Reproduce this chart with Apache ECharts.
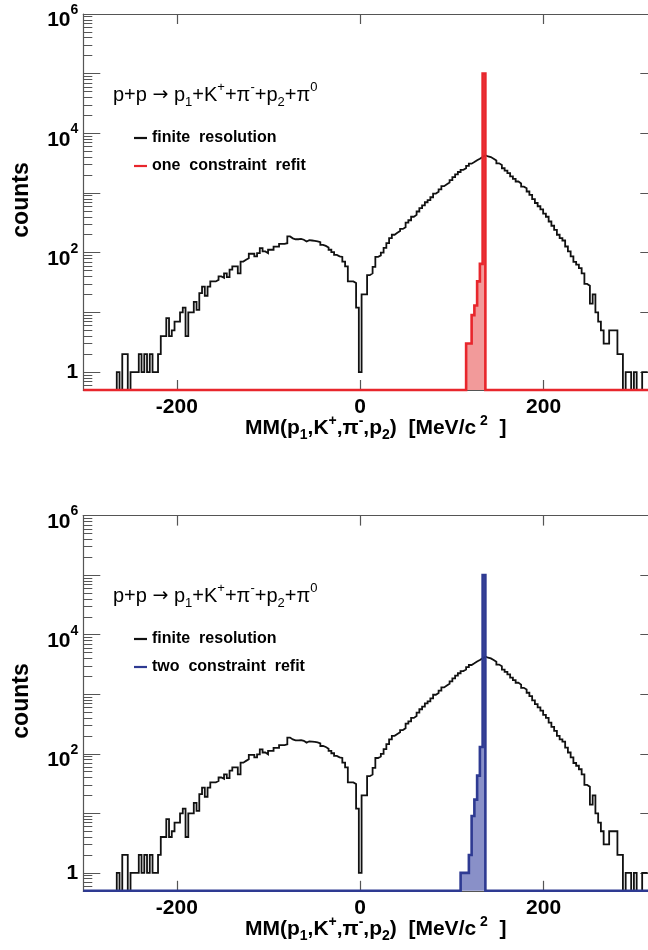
<!DOCTYPE html>
<html><head><meta charset="utf-8">
<script src="https://cdn.jsdelivr.net/npm/echarts@6/dist/echarts.min.js"></script>
<style>html,body{margin:0;padding:0;background:#fff}#c{width:648px;height:950px}</style>
</head><body><div id="c"></div>
<script>
// ---------------- data ----------------
const binWidth = 3;              // MeV per bin
const firstBinCenter = -300;     // centre of first bin
// finite resolution histogram (same in both panels), counts per bin
const finiteCounts = [
  0,0,0,0,0,0,0,0,0,0,0,0,
  1,0,2,2,0,1,1,1,2,1,2,1,2,1,1,2,
  4,4,8,4,5,7,7,10,12,4,10,10,15,11,21,27,19,27,33,33,35,40,
  38,45,39,52,59,59,45,71,76,81,96,96,87,98,119,105,98,112,112,126,
  126,140,140,144,187,174,168,168,170,165,154,162,160,158,155,150,135,130,122,112,102,92,87,85,71,59,33,33,31,12,
  1,20,20,42,45,58,85,90,100,120,
  145,175,200,215,230,250,268,320,350,400,430,490,560,620,700,760,850,980,1050,1150,1300,1400,1500,1650,1850,2050,2250,2450,2600,2850,3100,3300,3550,3750,4000,4300,
  4100,4000,3750,3500,3150,2950,2600,2370,2150,1900,1720,1560,1450,1280,1200,1060,930,790,680,600,530,450,400,333,
  283,242,200,175,160,127,105,87,70,63,55,45,30,28,14,20,10,7,5,3,3,5,5,5,2,2,0,1,1,0,1,0,0,1,1
];
// one constraint refit (top panel)
const oneCFitCenters = [117, 120, 123, 126, 129, 132, 135];
const oneCFitCounts  = [3, 3, 9, 13, 33, 65, 100000];
// two constraint refit (bottom panel)
const twoCFitCenters = [111, 114, 117, 120, 123, 126, 129, 132, 135];
const twoCFitCounts  = [1, 1, 1, 2, 9, 17, 43, 130, 100000];
// axes
const xTicks = [-200, 0, 200];
const yLabelValues = [1, 100, 10000, 1000000];
const yMajorTicks = [1, 10, 100, 1000, 10000, 100000, 1000000];
const yMinorMultipliers = [2, 3, 4, 5, 6, 7, 8, 9];

// ---------------- helpers ----------------
const X_MIN = -302, X_MAX = 324, Y_MIN = 0.5, Y_MAX = 1e6;
const FONT = '"Liberation Sans", Arial, Helvetica, sans-serif';
const yMinorTicks = [];
[0.1].concat(yMajorTicks).forEach(d => yMinorMultipliers.forEach(m => {
  const v = +(m * d).toPrecision(6);
  if (v >= Y_MIN && v <= Y_MAX && yMajorTicks.indexOf(v) < 0) yMinorTicks.push(v);
}));

function stepPoints(centers, counts, extend) {
  const pts = [];
  let prevR = null;
  if (extend) pts.push([X_MIN, Y_MIN]);
  for (let i = 0; i < counts.length; i++) {
    const l = Math.max(centers[i] - binWidth / 2, X_MIN);
    const r = Math.min(centers[i] + binWidth / 2, X_MAX);
    const c = counts[i] > 0 ? counts[i] : Y_MIN;
    if (prevR === null) { if (extend) pts.push([l, Y_MIN]); }
    else if (Math.abs(prevR - l) > 1e-9) { pts.push([prevR, Y_MIN]); pts.push([l, Y_MIN]); }
    pts.push([l, c]); pts.push([r, c]);
    prevR = r;
  }
  if (extend) { pts.push([prevR, Y_MIN]); pts.push([X_MAX, Y_MIN]); }
  return pts;
}
const finiteCenters = finiteCounts.map((_, i) => firstBinCenter + i * binWidth);

const axisColor = '#555';
function xAxes(gi) {
  const base = {type: 'value', gridIndex: gi, min: X_MIN, max: X_MAX, splitLine: {show: false},
    axisLine: {show: true, onZero: false, lineStyle: {color: axisColor, width: 1.2}}};
  return [
    Object.assign({}, base, {position: 'bottom',
      axisTick: {show: true, inside: true, length: 10, customValues: xTicks, lineStyle: {color: axisColor, width: 1.2}},
      axisLabel: {show: true, customValues: xTicks, margin: 7, color: '#000', fontFamily: FONT, fontWeight: 'bold', fontSize: 21}}),
    Object.assign({}, base, {position: 'top',
      axisTick: {show: true, inside: true, length: 10, customValues: xTicks, lineStyle: {color: axisColor, width: 1.2}},
      axisLabel: {show: false}})
  ];
}
const yRich = {
  b: {fontFamily: FONT, fontWeight: 'bold', fontSize: 21, color: '#000', lineHeight: 34, verticalAlign: 'bottom'},
  s: {fontFamily: FONT, fontWeight: 'bold', fontSize: 14, color: '#000', verticalAlign: 'top', padding: [6, 0, 0, 0]},
  one: {fontFamily: FONT, fontWeight: 'bold', fontSize: 21, color: '#000', lineHeight: 24}
};
function yAxes(gi) {
  const base = {type: 'log', logBase: 10, gridIndex: gi, min: Y_MIN, max: Y_MAX, splitLine: {show: false},
    minorTick: {show: false}, axisLabel: {show: false}, axisLine: {show: false, onZero: false}, axisTick: {show: false}};
  const tl = {color: axisColor, width: 1};
  return [
    Object.assign({}, base, {position: 'left',
      axisLine: {show: true, onZero: false, lineStyle: {color: axisColor, width: 1.2}},
      axisTick: {show: true, inside: true, length: 17, customValues: yMajorTicks, lineStyle: tl},
      axisLabel: {show: true, customValues: yLabelValues, margin: 5, rich: yRich,
        formatter: v => (Math.abs(v - 1) < 1e-9 ? '{one|1}' : '{b|10}{s|' + Math.round(Math.log10(v)) + '}')}}),
    Object.assign({}, base, {position: 'left',
      axisTick: {show: true, inside: true, length: 9, customValues: yMinorTicks, lineStyle: tl}}),
    Object.assign({}, base, {position: 'right',
      axisLine: {show: true, onZero: false, lineStyle: {color: axisColor, width: 1.2}},
      axisTick: {show: true, inside: true, length: 17, customValues: yMajorTicks, lineStyle: tl}}),
    Object.assign({}, base, {position: 'right',
      axisTick: {show: true, inside: true, length: 9, customValues: yMinorTicks, lineStyle: tl}})
  ];
}
// filled area under a refit histogram: one polygon built through the axes' scales
function fillSeries(gi, centers, counts, color) {
  return {type: 'custom', xAxisIndex: gi * 2, yAxisIndex: gi * 4, z: 1, silent: true,
    data: [[centers[0], counts[0]]],
    renderItem: (params, api) => {
      const pts = [];
      for (let i = 0; i < counts.length; i++) {
        pts.push(api.coord([centers[i] - binWidth / 2, counts[i]]));
        pts.push(api.coord([centers[i] + binWidth / 2, counts[i]]));
      }
      pts.push(api.coord([centers[counts.length - 1] + binWidth / 2, Y_MIN]));
      pts.push(api.coord([centers[0] - binWidth / 2, Y_MIN]));
      return {type: 'polygon', shape: {points: pts}, style: {fill: color}};
    }};
}
function lineSeries(gi, name, pts, color, width, z) {
  return {type: 'line', name, xAxisIndex: gi * 2, yAxisIndex: gi * 4, data: pts, showSymbol: false,
    symbol: 'none', clip: false, z, color, itemStyle: {color},
    lineStyle: {color, width, join: 'miter'}, animation: false};
}
const titleRich = {
  n: {fontFamily: FONT, fontSize: 20, color: '#000', lineHeight: 28, verticalAlign: 'middle'},
  ar: {fontFamily: '"DejaVu Sans", sans-serif', fontSize: 19, color: '#000', lineHeight: 28, verticalAlign: 'middle'},
  sup: {fontFamily: FONT, fontSize: 13, color: '#000', verticalAlign: 'top'},
  sub: {fontFamily: FONT, fontSize: 13, color: '#000', verticalAlign: 'bottom'}
};
const titleText = '{n|p+p }{ar|\u2192}{n| p}{sub|1}{n|+K}{sup|+}{n|+\u03c0}{sup|-}{n|+p}{sub|2}{n|+\u03c0}{sup|0}';
const xtRich = {
  n: {fontFamily: FONT, fontSize: 21, fontWeight: 'bold', color: '#000', lineHeight: 28, verticalAlign: 'middle'},
  sup: {fontFamily: FONT, fontSize: 14, fontWeight: 'bold', color: '#000', verticalAlign: 'top'},
  sub: {fontFamily: FONT, fontSize: 14, fontWeight: 'bold', color: '#000', verticalAlign: 'bottom'}
};
const xTitleText = '{n|MM(p}{sub|1}{n|,K}{sup|+}{n|,\u03c0}{sup|-}{n|,p}{sub|2}{n|)  [MeV/c}{sup| 2}{n|  ]}';

function panelGraphics(dy) {
  return [
    {type: 'text', x: 113, y: 81 + dy, style: {rich: titleRich, text: titleText, align: 'left', verticalAlign: 'top'}},
    {type: 'text', x: 245, y: 414 + dy, style: {rich: xtRich, text: xTitleText, align: 'left', verticalAlign: 'top'}},
    {type: 'text', x: 22, y: 200 + dy, rotation: Math.PI / 2,
      style: {text: 'counts', font: 'bold 23px ' + FONT, fill: '#000', align: 'center', verticalAlign: 'middle'}}
  ];
}
function legendFor(top, names) {
  return {left: 134, top, orient: 'vertical', itemGap: 10, itemWidth: 13, itemHeight: 2.2, icon: 'rect',
    padding: 0, selectedMode: false, data: names, formatter: n => n.replace(/ /g, '  '),
    textStyle: {fontFamily: FONT, fontWeight: 'bold', fontSize: 16, color: '#000', lineHeight: 18}};
}

const chart = echarts.init(document.getElementById('c'), null, {renderer: 'canvas'});
chart.setOption({
  animation: false,
  backgroundColor: '#fff',
  grid: [
    {left: 83.3, top: 14, width: 574, height: 376, containLabel: false, outerBoundsMode: 'none'},
    {left: 83.3, top: 515.6, width: 574, height: 375.2, containLabel: false, outerBoundsMode: 'none'}
  ],
  xAxis: xAxes(0).concat(xAxes(1)),
  yAxis: yAxes(0).concat(yAxes(1)),
  legend: [
    legendFor(129, ['finite resolution', 'one constraint refit']),
    legendFor(630, ['finite resolution', 'two constraint refit'])
  ],
  graphic: panelGraphics(0).concat(panelGraphics(501)),
  series: [
    fillSeries(0, oneCFitCenters, oneCFitCounts, '#f29a9a'),
    lineSeries(0, 'finite resolution', stepPoints(finiteCenters, finiteCounts, false), '#111', 1.8, 2),
    lineSeries(0, 'one constraint refit', stepPoints(oneCFitCenters, oneCFitCounts, true), '#e8262c', 2.6, 3),
    fillSeries(1, twoCFitCenters, twoCFitCounts, '#8990c8'),
    lineSeries(1, 'finite resolution', stepPoints(finiteCenters, finiteCounts, false), '#111', 1.8, 2),
    lineSeries(1, 'two constraint refit', stepPoints(twoCFitCenters, twoCFitCounts, true), '#2e3a92', 2.6, 3)
  ]
});
</script>
</body></html>
